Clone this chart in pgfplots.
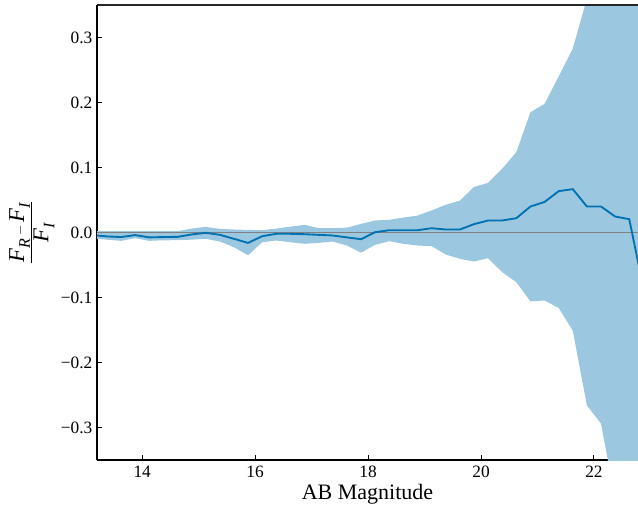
\documentclass[border=0pt]{standalone}
\usepackage{fontspec}
\setmainfont{Liberation Serif}
\usepackage{pgfplots}
\pgfplotsset{compat=1.18}
\usepgfplotslibrary{fillbetween}
\usepackage{pgfplotstable}

\definecolor{lineblue}{RGB}{0,114,178}
\definecolor{bandblue}{RGB}{155,199,224}

\newcommand\Fit{\hbox{\fontsize{17}{19}\selectfont\itshape F}}
\newcommand\subit[1]{\hbox{\fontsize{12}{13}\selectfont\itshape #1}}

% binned flux ratio: centre, mean, lower and upper envelope
\pgfplotstableread{
mag     mean     lo       hi
13.125  -0.0040  -0.0090  0.0020
13.375  -0.0060  -0.0110  0.0020
13.625  -0.0070  -0.0128  0.0020
13.875  -0.0040  -0.0087  0.0020
14.125  -0.0075  -0.0128  0.0020
14.375  -0.0070  -0.0120  0.0020
14.625  -0.0067  -0.0118  0.0020
14.875  -0.0030  -0.0110  0.0060
15.125  -0.0005  -0.0097  0.0087
15.375  -0.0035  -0.0138  0.0056
15.625  -0.0097  -0.0226  0.0046
15.875  -0.0160  -0.0350  0.0040
16.125  -0.0057  -0.0149  0.0036
16.375  -0.0020  -0.0123  0.0060
16.625  -0.0020  -0.0150  0.0090
16.875  -0.0026  -0.0174  0.0118
17.125  -0.0036  -0.0160  0.0067
17.375  -0.0046  -0.0138  0.0067
17.625  -0.0075  -0.0200  0.0075
17.875  -0.0103  -0.0310  0.0133
18.125   0.0005  -0.0190  0.0185
18.375   0.0035  -0.0133  0.0195
18.625   0.0035  -0.0174  0.0230
18.875   0.0035  -0.0200  0.0260
19.125   0.0066  -0.0210  0.0340
19.375   0.0046  -0.0338  0.0426
19.625   0.0046  -0.0405  0.0490
19.875   0.0128  -0.0446  0.0700
20.125   0.0185  -0.0395  0.0764
20.375   0.0185  -0.0610  0.0980
20.625   0.0220  -0.0764  0.1236
20.875   0.0400  -0.1060  0.1850
21.125   0.0470  -0.1046  0.1980
21.375   0.0636  -0.1160  0.2400
21.625   0.0667  -0.1510  0.2830
21.875   0.0400  -0.2660  0.3600
22.125   0.0400  -0.2940  0.4500
22.375   0.0246  -0.4100  0.5500
22.625   0.0205  -0.5000  0.6500
22.875  -0.0850  -0.6000  0.8000
}\ratio

\begin{document}
\begin{tikzpicture}
\begin{axis}[
  at={(0,0)}, anchor=south west,
  scale only axis,
  width=405.75pt, height=341.25pt,
  xmin=13.2, xmax=22.78,
  ymin=-0.35, ymax=0.35,
  axis lines=left,
  axis line style={-, line width=0.8pt},
  tick align=inside,
  tick pos=left,
  major tick length=3.5pt,
  tick style={line width=0.7pt, black},
  xtick={14,16,18,20,22},
  xticklabels={14,16,18,20,22},
  ytick={-0.3,-0.2,-0.1,0,0.1,0.2,0.3},
  yticklabels={−0.3,−0.2,−0.1,0.0,0.1,0.2,0.3},
  ticklabel style={font=\fontsize{13}{15}\selectfont},
  xticklabel style={yshift=-1pt},
  xlabel={AB Magnitude},
  xlabel style={font=\fontsize{16.5}{18}\selectfont, yshift=2pt},
  ylabel={$\displaystyle\frac{\Fit_{\subit{R}}-\Fit_{\subit{I}}}{\Fit_{\subit{I}}}$},
  ylabel style={yshift=-2pt},
]
\addplot[name path=hi, draw=none, forget plot] table[x=mag, y=hi] {\ratio};
\addplot[name path=lo, draw=none, forget plot] table[x=mag, y=lo] {\ratio};
\addplot[fill=bandblue, draw=none] fill between[of=hi and lo];
\addplot[gray, line width=0.75pt, forget plot] coordinates {(13.0,0) (23.0,0)};
\addplot[lineblue, line width=1.4pt] table[x=mag, y=mean] {\ratio};
\end{axis}
\draw[line width=0.8pt, black!85] (0,341.25pt) -- (405.75pt,341.25pt);
\pgfresetboundingbox
\path[use as bounding box] (-72.75pt,-36pt) rectangle (405.75pt,345pt);
\end{tikzpicture}
\end{document}
